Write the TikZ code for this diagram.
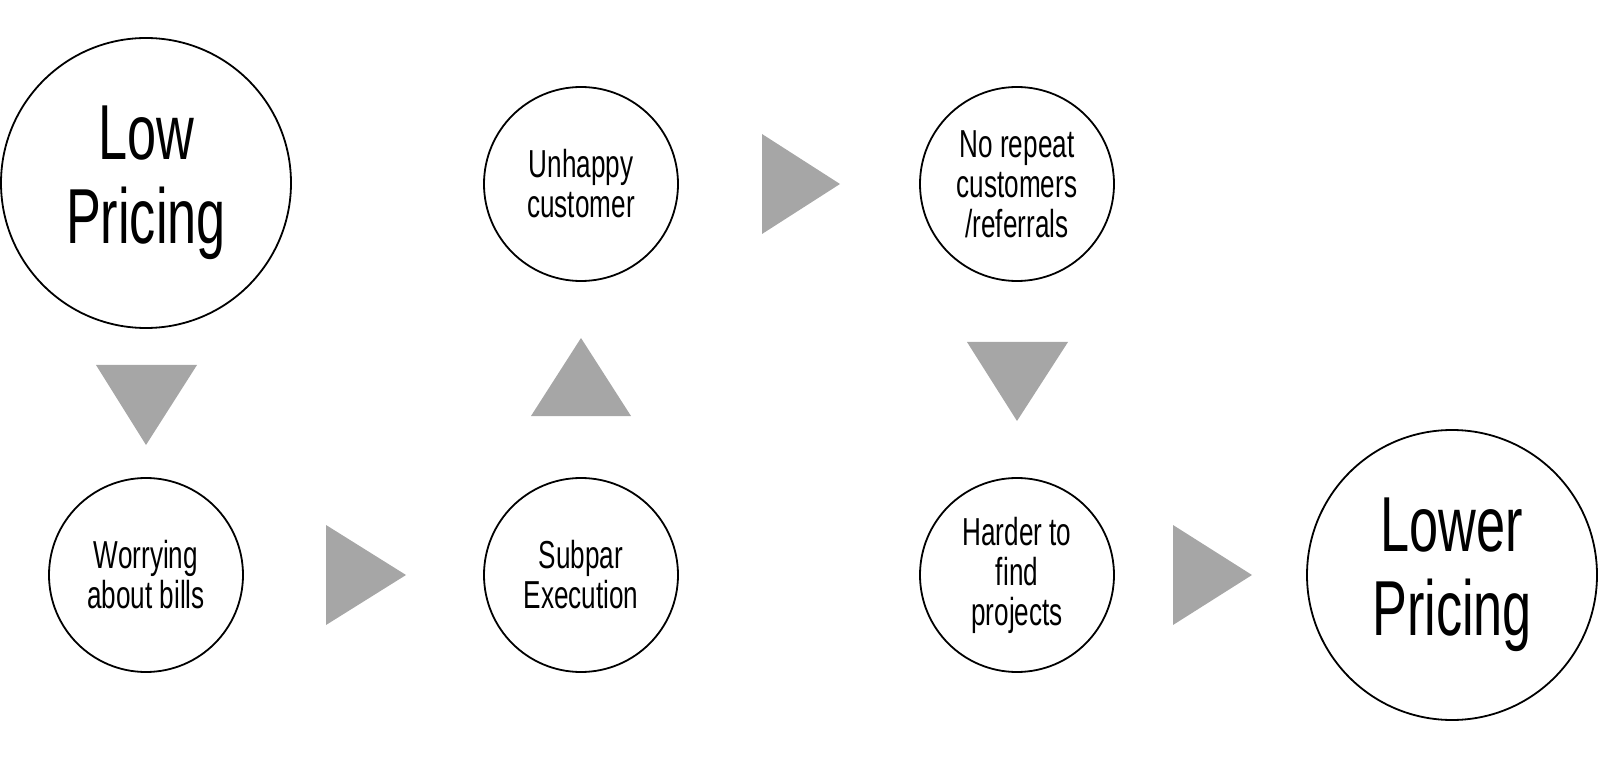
\documentclass[tikz,border=0pt]{standalone}
\usepackage{fontspec}
\setmainfont[FakeStretch=0.67]{Liberation Sans}
\begin{document}
\begin{tikzpicture}[x=1pt,y=-1pt,
  small/.style={circle,draw=black,line width=1.8pt,minimum size=194pt,inner sep=0pt,align=center,font=\fontsize{39}{40}\selectfont},
  big/.style={circle,draw=black,line width=1.8pt,minimum size=290pt,inner sep=0pt,align=center,font=\fontsize{78}{84}\selectfont},
  tri/.style={fill=black!35,draw=none}]
\useasboundingbox (0,0) rectangle (1599,759);
\node[big] (low) at (146,183) {Low\\Pricing};
\node[small] (worry) at (146,575) {Worrying\\about bills};
\node[small] (subpar) at (581,575) {Subpar\\Execution};
\node[small] (unhappy) at (581,184) {Unhappy\\customer};
\node[small] (norepeat) at (1017,184) {No repeat\\customers\\/referrals};
\node[small] (harder) at (1017,575) {Harder to\\find\\projects};
\node[big] (lower) at (1452,575) {Lower\\Pricing};
\fill[tri] (96,365) -- (197,365) -- (146,445) -- cycle;
\fill[tri] (326,525) -- (326,625) -- (406,575) -- cycle;
\fill[tri] (531,416) -- (631,416) -- (581,338) -- cycle;
\fill[tri] (762,134) -- (762,234) -- (840,184) -- cycle;
\fill[tri] (967,342) -- (1068,342) -- (1017,421) -- cycle;
\fill[tri] (1173,525) -- (1173,625) -- (1252,575) -- cycle;
\end{tikzpicture}
\end{document}
